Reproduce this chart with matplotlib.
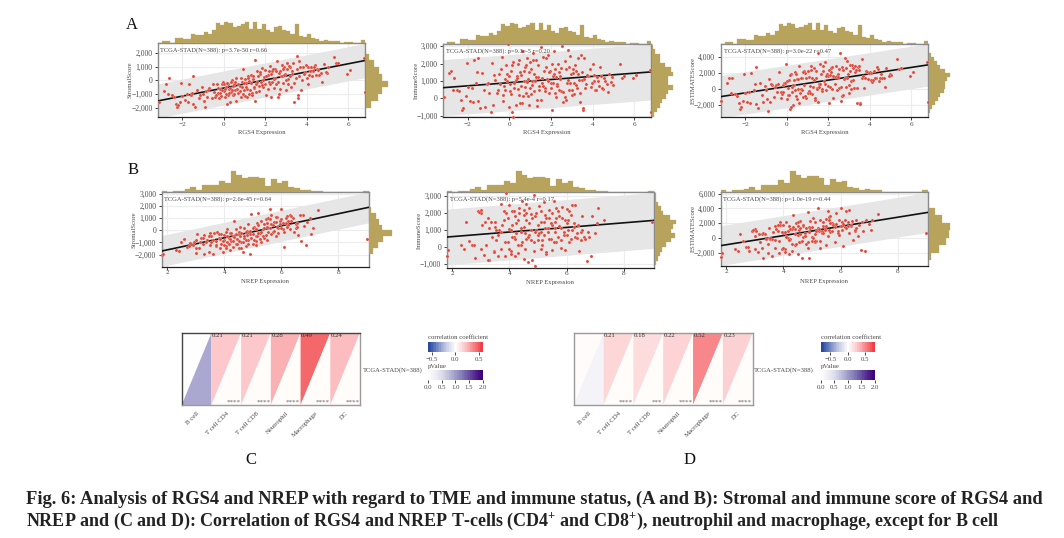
import numpy as np
import matplotlib
matplotlib.use('Agg')
import matplotlib.pyplot as plt
from matplotlib.colors import LinearSegmentedColormap
from matplotlib.ticker import FuncFormatter

plt.rcParams['font.family'] = ['Liberation Serif', 'DejaVu Sans']
plt.rcParams['mathtext.fontset'] = 'custom'
plt.rcParams['mathtext.rm'] = 'Liberation Serif'
plt.rcParams['mathtext.bf'] = 'Liberation Serif:bold'

W, H = 1064, 538

# values
rgs4_expr = [-3.15,-2.9,-2.8,-2.65,-2.7,-2.5,-2.4,-2.3,-2.25,-2.2,
    -2.1,-2.05,-2.0,-1.9,-1.8,-1.75,-1.7,-1.6,-1.5,-1.55,
    -1.5,-1.4,-1.3,-1.2,-1.15,-1.05,-0.95,-0.9,-0.85,-0.8,
    -0.7,-0.6,-0.5,-0.45,-0.35,-0.3,-0.25,-0.2,-0.15,-0.1,
    -0.05,0.0,0.05,0.1,0.15,0.2,0.2,0.25,0.3,0.35,
    0.4,0.45,0.5,0.55,0.6,0.6,0.7,0.75,0.8,0.85,
    0.9,0.95,1.0,1.05,1.1,1.15,1.2,1.2,1.3,1.35,
    1.4,1.45,1.5,1.5,1.55,1.6,1.7,1.75,1.8,1.85,
    1.9,1.95,2.0,2.05,2.1,2.15,2.2,2.25,2.3,2.4,
    2.45,2.5,2.55,2.6,2.65,2.7,2.75,2.8,2.85,2.9,
    2.95,3.0,3.05,3.1,3.2,3.25,3.3,3.4,3.45,3.5,
    3.55,3.55,3.6,3.7,3.8,3.9,4.0,4.05,4.1,4.2,
    4.3,4.4,4.5,4.6,4.75,4.8,4.95,5.0,5.3,5.4,
    5.5,5.95,6.1,6.75,6.78,
    -1.0,-0.75,-0.55,-0.4,-0.3,-0.2,-0.1,0.0,0.05,0.1,
    0.15,0.25,0.3,0.35,0.4,0.45,0.5,0.55,0.65,0.7,
    0.75,0.8,0.85,0.9,0.95,1.0,1.05,1.1,1.15,1.25,
    1.3,1.35,1.4,1.45,1.55,1.6,1.65,1.7,1.75,1.85,
    1.9,2.0,2.05,2.1,2.15,2.2,2.25,2.3,2.35,2.4,
    2.45,2.5,2.6,2.65,2.7,2.8,2.85,2.9,3.0,3.05,
    3.1,3.15,3.2,3.3,3.35,3.4,3.5,3.6,3.65,3.75,
    3.85,3.95,4.05,4.15,4.25,4.35,4.45,4.55,4.7,4.9]
rgs4_stromal = [-1550,-750,-300,150,-1000,-1100,-1250,-1700,-1950,-1800,
    -1600,-200,-1150,-1450,-1000,-1550,-250,-1050,-1750,-900,
    300,-1950,-700,-1300,-1100,-450,-1500,-1950,-800,-1250,
    -550,-1300,-850,-1200,-300,-950,-1300,-600,-1150,-250,
    -100,-800,-1200,-500,-1700,-1100,-300,-650,-1600,-850,
    50,-1100,-300,-700,-1500,200,-950,-400,-1250,-100,
    850,-700,-1150,-200,-600,300,-1000,-50,400,-900,
    100,-550,1500,-1500,-300,700,-800,450,-150,900,
    -450,250,750,-1100,400,-100,1050,-1200,700,100,
    800,-300,1450,-1250,-1000,650,300,1100,-200,1000,
    500,-700,1250,100,1000,-500,700,-1600,200,1750,
    -1050,-1300,1450,-700,950,600,150,950,400,1000,
    700,1150,850,400,-100,1200,550,1000,1700,1300,
    1300,500,750,1650,-850,
    -1000,-700,-300,-1050,-550,-900,-700,-300,-650,-1000,
    -200,-950,-550,-100,-700,-400,-1000,-150,-600,-300,
    -800,200,-500,-1000,-200,100,-500,-1250,200,-700,
    -200,-1050,300,-450,-850,-100,300,-400,600,-350,
    50,-250,350,-600,700,-300,450,-100,850,-550,
    200,700,-100,550,-600,300,850,400,50,800,
    -300,1050,350,500,1250,-200,800,300,950,50,
    450,1100,-250,700,300,950,400,750,550,600]
rgs4_immune = [100,1450,1600,1150,500,450,400,-100,-650,-550,
    150,2050,650,-150,600,-200,2200,900,-150,1500,
    2350,-550,1450,500,-500,800,300,-800,2050,-400,
    1050,300,1400,850,2400,-150,700,1100,1900,1000,
    3150,-500,400,1600,-800,-1100,2100,900,-400,1300,
    2000,200,1500,700,-300,2700,1000,1800,300,2300,
    1100,-400,600,1700,1000,2600,400,1400,2200,-450,
    1200,700,2950,-100,900,2400,600,1800,1100,2500,
    300,1600,900,-700,1300,2700,1700,100,800,1500,
    1100,400,3000,-200,100,1700,900,2800,500,2450,
    1400,200,1700,900,1600,600,1400,-200,2500,1050,
    -650,-550,2300,800,1300,650,2000,1000,500,1200,
    700,1300,550,1000,350,1400,1250,750,2000,1150,
    1300,1150,1350,1650,-800,
    900,1350,500,1700,200,500,1400,1300,800,250,
    1900,600,1050,1150,550,2200,-300,1350,150,1600,
    650,1900,950,150,1500,2100,250,750,2200,1000,
    1250,-100,1900,450,1150,700,1600,400,2300,1000,
    1500,600,2000,900,1400,300,1200,700,1950,450,
    1300,1750,350,2150,-100,1050,1800,900,500,1450,
    250,1900,750,2300,1050,300,1500,1100,600,1350,
    1700,900,1350,450,1000,1800,600,1150,800,950]
rgs4_estimate = [-1450,700,1300,1300,-550,-650,-850,-1800,-2500,-2300,
    -1500,1850,-500,-1600,-400,-1700,1950,-150,-1900,600,
    2700,-2400,750,-800,-1600,350,-1200,-2750,1250,-1650,
    500,-1000,550,-350,2100,-1100,-600,500,750,750,
    3100,-1300,-800,1100,-2500,-2200,1800,250,-2000,450,
    2050,-900,1200,0,-1800,2900,50,1400,-950,2200,
    1950,-1100,-550,1500,400,2900,-600,1350,2600,-1350,
    1300,150,4450,-1600,600,3100,-200,2250,950,3400,
    -150,1850,1650,-1800,1700,2600,2750,-1100,1500,1600,
    1900,100,4450,-1450,-900,2350,1200,3900,300,3450,
    1900,-500,2950,1000,2600,100,2100,-1800,2700,2800,
    -1700,-1850,3750,100,2250,1250,2150,1950,900,2200,
    1400,2450,1400,1400,250,2600,1800,1750,3700,2450,
    2600,1650,2100,3300,-1650,
    -100,650,200,650,-350,-400,700,1000,150,-750,
    1700,-350,500,1050,-150,1800,-1300,1200,-450,1300,
    -150,2100,450,-850,1300,2200,-250,-500,2400,300,
    1050,-1150,2200,0,300,600,1900,0,2900,650,
    1550,350,2350,300,2100,0,1650,600,2800,-100,
    1500,2450,250,2700,-700,1350,2650,1300,550,2250,
    -50,2950,1100,2800,2300,100,2300,1400,1550,1400,
    2150,2000,1100,1150,1300,2750,1000,1900,1350,1550]

nrep_expr = [1.82,1.85,2.3,2.4,2.5,2.6,2.7,2.8,2.9,3.0,
    3.0,3.05,3.1,3.2,3.25,3.3,3.3,3.4,3.45,3.5,
    3.5,3.55,3.6,3.65,3.7,3.7,3.75,3.8,3.85,3.9,
    3.9,3.95,4.0,4.0,4.05,4.1,4.1,4.15,4.2,4.2,
    4.25,4.3,4.3,4.35,4.4,4.4,4.45,4.5,4.5,4.55,
    4.6,4.6,4.65,4.7,4.7,4.75,4.8,4.85,4.85,4.9,
    4.9,4.95,5.0,5.05,5.1,5.1,5.15,5.2,5.25,5.3,
    5.3,5.35,5.4,5.45,5.5,5.5,5.55,5.6,5.65,5.7,
    5.75,5.8,5.85,5.9,5.95,6.0,6.05,6.1,6.15,6.2,
    6.25,6.3,6.35,6.45,6.5,6.6,6.7,6.75,6.85,6.9,
    7.0,7.1,7.3,9.0,
    3.35,3.45,3.6,3.7,3.8,3.85,3.95,4.0,4.05,4.1,
    4.15,4.2,4.25,4.3,4.35,4.4,4.45,4.5,4.5,4.55,
    4.6,4.65,4.7,4.75,4.75,4.8,4.85,4.9,4.95,5.0,
    5.0,5.05,5.1,5.15,5.2,5.2,5.25,5.3,5.35,5.4,
    5.4,5.45,5.5,5.55,5.6,5.6,5.65,5.7,5.75,5.8,
    5.8,5.85,5.9,5.95,6.0,6.0,6.05,6.1,6.15,6.2,
    6.25,6.3,6.4,6.5,6.55,6.65,3.0,3.15,3.25,2.95,
    2.75,3.55,4.05,4.6,5.1,5.65,6.35,6.55,6.8,7.05]
nrep_stromal = [-2000,-1950,-1650,-1700,-950,-700,-1400,-1050,-1200,-800,
    -1900,-300,-1500,-600,-1100,-1950,-400,-800,-1800,-200,
    -1200,-500,-1950,-250,-900,-1300,-100,-600,-1500,-1100,
    -300,-1750,-800,-400,-1300,-1000,100,-600,-1600,-200,
    -900,-1350,-450,800,-1100,100,-700,-1500,-300,300,
    -1000,-250,-1800,200,-600,-1300,-50,-800,500,-1950,
    -300,1350,-1100,300,-450,-900,600,1400,-200,-1000,
    800,100,-600,900,300,-800,1000,1800,500,-100,
    700,-450,1100,200,800,1750,100,-1400,600,1200,
    400,1300,800,-100,500,-350,-850,1250,-1250,700,
    1050,200,1650,-750,
    -1000,-500,-800,-1200,-300,-700,-900,-1200,-150,-500,
    -1100,-750,-200,-900,-550,-300,-1150,-100,-850,-450,
    -200,-1000,-500,-150,-800,-400,-1150,-50,-600,-300,
    150,-800,100,-500,-200,400,-750,-100,-450,500,
    200,-350,600,-100,200,900,-300,400,-50,650,
    1100,250,-200,500,200,900,600,-150,1000,300,
    800,100,1050,200,600,1300,-1450,-950,-600,-1000,
    -1300,-1000,-1500,-1500,-1250,1250,1150,300,350,-300]
nrep_immune = [-550,-150,150,-100,1450,350,150,-650,2100,2000,
    2200,1300,-450,100,1700,-750,1100,600,-200,1500,
    1200,400,-550,1000,2550,-100,1300,1600,-500,3150,
    2000,300,2500,1050,-250,1300,2100,600,-550,1800,
    800,-350,1600,2300,100,1150,2700,-700,1900,800,
    500,2550,-900,1400,700,1950,-750,300,3050,-1100,
    1800,1000,700,2400,-100,1500,400,2650,1100,-400,
    1700,900,2200,500,1300,-150,2700,1100,300,2100,
    1250,-50,2350,700,1600,2250,1000,300,1900,2450,
    1200,2500,800,-200,400,600,-800,900,-500,1800,
    800,2300,1600,1450,
    1500,-300,700,900,2100,300,1700,-100,1000,600,
    2100,500,1400,100,2000,900,300,2200,1200,-100,
    1600,600,2300,400,1000,1700,-200,900,2000,400,
    1300,800,2100,100,1500,700,1900,-300,1100,1700,
    500,1400,2000,300,900,1500,2300,600,1800,1100,
    400,1700,900,-150,1400,700,1600,2100,500,1000,
    1400,600,1300,900,1850,450,-100,1450,-750,2050,
    100,1000,-400,2000,900,1700,550,1000,600,1400]
nrep_estimate = [-2550,-2100,-1500,-1700,500,-400,-1250,-1700,900,1200,
    300,1000,-1950,-500,600,-2700,700,-200,-2000,1300,
    0,-100,-2500,750,1650,-1400,1200,1000,-2000,2100,
    1700,-1450,1700,650,-1550,300,2200,0,-2150,1600,
    -100,-1700,1150,3100,-1000,1250,2000,-2200,1600,1100,
    -500,2300,-2700,1600,100,650,-800,-500,3550,-2700,
    1500,2350,-400,2700,-550,600,1000,4050,900,-1400,
    2500,1000,1600,1400,1600,-950,3700,2900,800,2000,
    1950,-500,3450,900,2400,4000,1100,-1100,2500,3650,
    1600,3800,1600,-300,900,250,-1650,2150,-1750,2500,
    1850,2500,3250,700,
    500,-800,-100,-300,1800,-400,800,-1300,850,100,
    1000,-250,1200,-800,1450,600,-850,2100,350,-550,
    1400,-400,1800,250,200,1300,-1350,850,1400,100,
    1450,0,2200,-400,1300,1100,1150,-400,650,2200,
    700,1050,2600,200,1100,2400,2000,1000,1750,1750,
    1500,1950,700,350,1600,1600,2200,1950,1500,1300,
    2200,700,2350,1100,2450,1750,-1550,500,-1350,1050,
    -1200,0,-1900,500,-350,2950,1700,1300,950,1100]

rgs4_hist = [0,4,5,0,12,12,10,11,25,22,22,30,26,36,57,52,62,58,45,50,55,60,40,62,40,
    55,38,30,45,50,38,33,26,55,18,16,25,14,10,5,6,3,3,3,0,2,2,0,0,8]
nrep_hist = [3,0,3,3,8,14,5,20,19,20,33,25,62,50,40,45,45,40,18,38,27,32,13,10,5,6,3,3,
    0,0,0,0,0,0,0,3]

hist_stromal_a = [15,36,50,68,48,40,24,10]
hist_immune_a = [8,15,25,30,42,50,65,50,50,65,58,40,25,25,10,5]
hist_estimate_a = [5,10,20,28,35,45,50,50,55,65,50,35,25,15,8]
hist_stromal_b = [12,25,40,67,38,30,20,5]
hist_immune_b = [5,10,15,22,35,50,60,50,55,65,45,25,18,10,5,3]
hist_estimate_b = [6,30,52,60,65,40,20]

rgs4_fit = [(-1500,1450,1250),(610,1520,1620),(-960,3000,2650)]
nrep_fit = [(-1710,1900,1280),(590,1570,1640),(-1040,3470,2700)]
rgs4_stats = ['p=3.7e-50 r=0.66','p=9.3e-5 r=0.20','p=3.0e-22 r=0.47']
nrep_stats = ['p=2.6e-45 r=0.64','p=5.4e-4 r=0.17','p=1.0e-19 r=0.44']

cell_types = ['B cell','T cell CD4','T cell CD8','Neutrophil','Macrophage','DC']
corr_c = [0.0,0.21,0.21,0.28,0.49,0.24]
corr_d = [0.02,0.21,0.18,0.22,0.52,0.23]
pval_c = [0.9,0.0,0.0,0.0,0.0,0.0]
pval_d = [0.15,0.0,0.0,0.0,0.0,0.0]
stars_c = ['','****','****','****','****','****']
stars_d = ['','****','***','****','****','****']

fig = plt.figure(figsize=(W/100, H/100), dpi=100)
TXT = '#4a4a4a'
OLIVE = '#b7a35c'
RED = '#e0473a'


def add_px(l, t, r, b):
    return fig.add_axes([l/W, 1-b/H, (r-l)/W, (b-t)/H])


def joint(box, xlim, ylim, xt, yt, x, y, fit, hx, hy, hy_range, xlabel, ylabel, ylab_px, stat, stat_px, xlab_gap, xpad):
    l, t, r, b = box
    ax = add_px(l, t, r, b)
    ax.set_xlim(xlim)
    ax.set_ylim(ylim)
    ax.set_axisbelow(True)
    ax.grid(color='#ececec', lw=0.8)
    lo, hi, half = fit
    ax.fill_between(xlim, [lo-half, hi-half], [lo+half, hi+half], color='#e6e6e6', lw=0, zorder=1)
    ax.plot(xlim, [lo, hi], color='#111111', lw=1.2, zorder=3)
    ax.scatter(x, y, s=5, color=RED, edgecolors='#f5c9c2', linewidths=0.2, zorder=4, clip_on=False)
    ax.set_xticks(xt)
    ax.set_yticks(yt)
    ax.yaxis.set_major_formatter(FuncFormatter(lambda v, p: f'{v:,.0f}'.replace('-', '\u2212')))
    ax.xaxis.set_major_formatter(FuncFormatter(lambda v, p: f'{v:.0f}'.replace('-', '\u2212')))
    ax.tick_params(labelsize=5.5, length=2, width=0.6, pad=2, labelcolor=TXT, color='#222222')
    ax.tick_params(axis='x', labelsize=5.2, pad=xpad)
    for s in ['top', 'right', 'left']:
        ax.spines[s].set_color('#8a8a8a')
        ax.spines[s].set_linewidth(1.0)
    ax.spines['bottom'].set_color('#222222')
    ax.spines['bottom'].set_linewidth(0.9)
    fig.text((l+r)/2/W, 1-(b+xlab_gap)/H, xlabel, fontsize=4.8, color=TXT, ha='center', va='center')
    fig.text(ylab_px/W, 1-(t+b)/2/H, ylabel, fontsize=4.8, color=TXT, ha='center', va='center', rotation=90)
    fig.text(stat_px/W, 1-(t+7)/H, 'TCGA-STAD(N=388): ' + stat, fontsize=4.7, color=TXT, ha='left', va='center', zorder=10)

    top = add_px(l, t-22, r, t-0.5)
    edges = np.linspace(xlim[0], xlim[1], len(hx)+1)
    top.bar(edges[:-1], hx, width=np.diff(edges), align='edge', color=OLIVE, edgecolor=OLIVE, linewidth=0.2)
    top.set_xlim(xlim)
    top.set_ylim(0, 64)
    top.axis('off')

    side = add_px(r+0.5, t, r+24, b)
    edges = np.linspace(hy_range[0], hy_range[1], len(hy)+1)
    side.barh(edges[:-1], hy, height=np.diff(edges), align='edge', color=OLIVE, edgecolor=OLIVE, linewidth=0.2)
    side.set_ylim(ylim)
    side.set_xlim(0, 70)
    side.axis('off')


rgs4_xlim = (-3.18, 6.8)
nrep_xlim = (1.81, 9.06)
rgs4_xt = [-2, 0, 2, 4, 6]
nrep_xt = [2, 4, 6, 8]

joint((158, 43, 365, 117.3), rgs4_xlim, (-2700, 2730), rgs4_xt, [-2000, -1000, 0, 1000, 2000],
      rgs4_expr, rgs4_stromal, rgs4_fit[0], rgs4_hist, hist_stromal_a, (-2000, 1950),
      'RGS4 Expression', 'StromalScore', 130, rgs4_stats[0], 160.5, 15.5, 1.3)
joint((443, 44, 651, 117), rgs4_xlim, (-1080, 3130), rgs4_xt, [-1000, 0, 1000, 2000, 3000],
      rgs4_expr, rgs4_immune, rgs4_fit[1], rgs4_hist, hist_immune_a, (-1060, 3080),
      'RGS4 Expression', 'ImmuneScore', 416, rgs4_stats[1], 446, 15.5, 1.3)
joint((720.7, 44, 928, 117), rgs4_xlim, (-3500, 5600), rgs4_xt, [-2000, 0, 2000, 4000],
      rgs4_expr, rgs4_estimate, rgs4_fit[2], rgs4_hist, hist_estimate_a, (-3040, 4460),
      'RGS4 Expression', 'ESTIMATEScore', 693, rgs4_stats[2], 724, 15.5, 1.3)
joint((161.7, 192.3, 368.7, 267), nrep_xlim, (-3030, 3140), nrep_xt, [-2000, -1000, 0, 1000, 2000, 3000],
      nrep_expr, nrep_stromal, nrep_fit[0], nrep_hist, hist_stromal_b, (-1980, 1950),
      'NREP Expression', 'StromalScore', 134, nrep_stats[0], 164, 14.7, 0.2)
joint((446.7, 192.3, 654, 267.7), nrep_xlim, (-1210, 3220), nrep_xt, [-1000, 0, 1000, 2000, 3000],
      nrep_expr, nrep_immune, nrep_fit[1], nrep_hist, hist_immune_b, (-1060, 3200),
      'NREP Expression', 'ImmuneScore', 419, nrep_stats[1], 450, 14.5, 0.2)
joint((720.7, 192, 928, 266), nrep_xlim, (-3800, 6230), nrep_xt, [-2000, 0, 2000, 4000, 6000],
      nrep_expr, nrep_estimate, nrep_fit[2], nrep_hist, hist_estimate_b, (-3000, 4070),
      'NREP Expression', 'ESTIMATEScore', 693, nrep_stats[2], 723, 15.5, 0.2)

corr_cmap = LinearSegmentedColormap.from_list('corr', [
    (0.0, '#2b4ba3'), (0.32, '#c5cbe4'), (0.5, '#ffffff'), (0.68, '#fcc8cb'), (0.915, '#f4686b'), (1.0, '#f23c45')])
pval_cmap = plt.get_cmap('Purples')


def heat(box, corr, pval, stars, cmax, cbar_l, cbar_r, label_px, frame):
    l, t, r, b = box
    ax = add_px(l, t, r, b)
    for i, (c, p) in enumerate(zip(corr, pval)):
        ax.fill([i, i+1, i], [0, 1, 1], color=corr_cmap(0.5 + c/(2*cmax)), lw=0)
        ax.fill([i, i+1, i+1], [0, 1, 0], color=pval_cmap(p/2) if p > 0 else '#fffcfa', lw=0)
        if i > 0:
            ax.text(i+0.02, 0.965, f'{c:.2f}', fontsize=4.9, color='#333333', ha='left', va='center')
        ax.text(i+0.98, 0.045, stars[i], fontsize=5, color='#666666', ha='right', va='center')
    ax.set_xlim(0, len(corr))
    ax.set_ylim(0, 1)
    ax.set_yticks([])
    ax.set_xticks(np.arange(len(corr))+0.5)
    ax.set_xticklabels(cell_types, rotation=45, ha='right', va='top', rotation_mode='anchor',
                       fontsize=4.9, color=TXT)
    ax.tick_params(length=0, pad=4)
    for s in ax.spines.values():
        s.set_color('#9a9a9a')
        s.set_linewidth(1.0)
    ax.spines['left'].set_color(frame)
    ax.spines['top'].set_color(frame)
    fig.text(label_px/W, 1-370/H, 'TCGA-STAD(N=388)', fontsize=4.8, color=TXT, ha='left', va='center')

    grad = np.linspace(0, 1, 256).reshape(1, -1)
    cb = add_px(cbar_l, 341.7, cbar_r, 351.7)
    cb.imshow(grad, aspect='auto', cmap=corr_cmap.resampled(21), extent=(-cmax, cmax, 0, 1))
    cb.set_yticks([])
    cb.set_xticks([-0.5, 0, 0.5])
    cb.set_xticklabels(['\u22120.5', '0.0', '0.5'], fontsize=4.9, color=TXT)
    cb.tick_params(length=2, width=0.5, pad=1.5)
    for s in cb.spines.values():
        s.set_visible(False)
    fig.text(cbar_l/W, 1-337.7/H, 'correlation coefficient', fontsize=4.9, color=TXT, ha='left', va='center')

    cb = add_px(cbar_l, 370, cbar_r, 380)
    cb.imshow(grad, aspect='auto', cmap=pval_cmap.resampled(21), extent=(0, 2, 0, 1))
    cb.set_yticks([])
    cb.set_xticks([0, 0.5, 1, 1.5, 2])
    cb.set_xticklabels(['0.0', '0.5', '1.0', '1.5', '2.0'], fontsize=4.9, color=TXT)
    cb.tick_params(length=2, width=0.5, pad=1.5)
    for s in cb.spines.values():
        s.set_visible(False)
    fig.text(cbar_l/W, 1-366.5/H, 'pValue', fontsize=4.9, color=TXT, ha='left', va='center')


heat((181.7, 333, 360, 405), corr_c, pval_c, stars_c, 0.59, 428, 482.7, 362.7, '#444444')
heat((573.7, 333.3, 752.7, 405), corr_d, pval_d, stars_d, 0.77, 821, 874.7, 754, '#9a9a9a')

for letter, px, py in [('A', 132, 25), ('B', 133, 170), ('C', 251, 460), ('D', 690, 460)]:
    fig.text(px/W, 1-py/H, letter, fontsize=12, color='#111111', ha='center', va='center')

fig.text(26/W, 1-499/H, 'Fig. 6: Analysis of RGS4 and NREP with regard to TME and immune status, (A and B): '
         'Stromal and immune score of RGS4 and', fontsize=13.33, fontweight='bold', color='#222222', va='center')
fig.text(25.5/W, 1-521/H, r'NREP and (C and D): Correlation of RGS4 and NREP T-cells (CD4$^{\mathbf{+}}$ and CD8$^{\mathbf{+}}$), '
         'neutrophil and macrophage, except for B cell', fontsize=13.0, fontweight='bold', color='#222222', va='center')

fig.savefig('out.png', dpi=100)
